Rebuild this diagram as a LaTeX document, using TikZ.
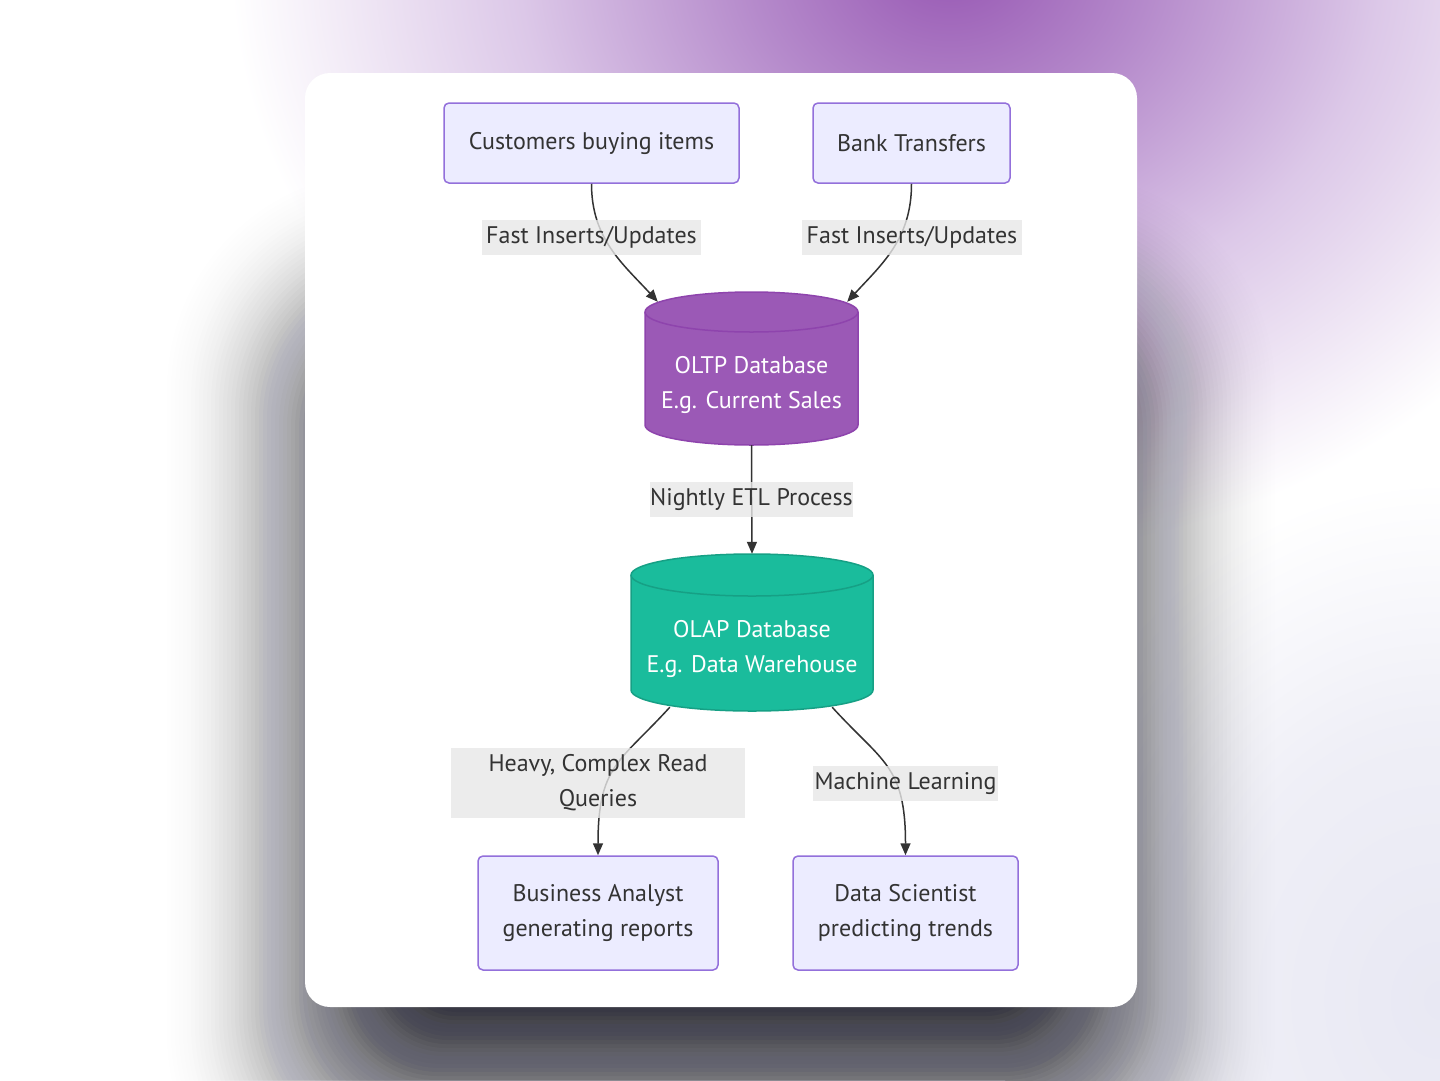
\documentclass[tikz,border=0pt]{standalone}
\usepackage{fontspec}
\setmainfont{PT Sans}
\usetikzlibrary{arrows.meta,calc}
\definecolor{boxfill}{HTML}{ECECFF}
\definecolor{boxline}{HTML}{9370DB}
\definecolor{ink}{HTML}{333333}
\definecolor{lblbg}{HTML}{E8E8E8}
\definecolor{oltpfill}{HTML}{9B59B6}
\definecolor{oltpline}{HTML}{8E44AD}
\definecolor{olapfill}{HTML}{1ABC9C}
\definecolor{olapline}{HTML}{16A085}
\definecolor{glowa}{HTML}{9757B3}
\definecolor{glowb}{HTML}{B58ACB}
\definecolor{glowc}{HTML}{DCC8E8}
\definecolor{bluea}{HTML}{E8E8F3}
\definecolor{shadowc}{HTML}{1C1C2A}
\pgfdeclareradialshading{purpleglow}{\pgfpoint{0bp}{0bp}}{color(0bp)=(glowa); color(7bp)=(glowb); color(15bp)=(glowc); color(25bp)=(white); color(50bp)=(white)}
\pgfdeclareradialshading{blueglow}{\pgfpoint{0bp}{0bp}}{color(0bp)=(bluea); color(13bp)=(bluea!70!white); color(25bp)=(white); color(50bp)=(white)}
\newcommand\mycyl[7]{%
  \pgfmathsetmacro\myrx{(#2-#1)/2}%
  \filldraw[fill=#6,draw=#7,line width=1.5pt] (#1,{#3+#5}) -- (#1,{#4-#5})
     arc[start angle=180,end angle=0,x radius=\myrx,y radius=#5] -- (#2,{#3+#5})
     arc[start angle=0,end angle=-180,x radius=\myrx,y radius=#5] -- cycle;
  \draw[#7,line width=1.5pt] (#1,{#3+#5}) arc[start angle=180,end angle=0,x radius=\myrx,y radius=#5];
}
\tikzset{
  txt/.style={font=\fontsize{24}{35}\selectfont, align=center, inner sep=0pt},
  procbox/.style={txt, rectangle, rounded corners=5pt, fill=boxfill, draw=boxline, line width=1.5pt, text=ink},
  edgelbl/.style={txt, rectangle, fill=lblbg, fill opacity=0.8, text opacity=1, text=ink},
  cylbounds/.style={rectangle, inner sep=0pt},
  cyltext/.style={txt, text=white},
  edge/.style={draw=ink, line width=1.5pt, -{Triangle[length=12pt,width=10pt]}}
}
\begin{document}
\begin{tikzpicture}[x=1pt,y=-1pt]
\useasboundingbox (0,0) rectangle (1440,1080);
\fill[white] (0,0) rectangle (1440,1080);
% background glows
\shade[shading=blueglow] (1440,1000) ellipse[x radius=440, y radius=520];
\shade[shading=purpleglow] (950,-40) ellipse[x radius=720, y radius=600];
% card shadow
\foreach \i in {0,...,70}{
  \pgfmathsetmacro\ee{-120+4*\i}
  \pgfmathsetmacro\aa{0.05*(160-\ee)/280}
  \pgfmathsetmacro\rr{30+0.7*(\ee+120)}
  \fill[shadowc, opacity=\aa, rounded corners=\rr pt] ({315-\ee},{320-\ee}) rectangle ({1127+\ee},{1104+\ee});
}
% card
\fill[white, rounded corners=25pt] (305,73) rectangle (1137,1007);

% nodes
\node[procbox, minimum width=295pt, minimum height=80pt] (cust) at (591.5,143) {Customers buying items};
\node[procbox, minimum width=197pt, minimum height=80pt] (bank) at (911.5,143) {Bank Transfers};

\mycyl{645}{858}{292}{445}{20}{oltpfill}{oltpline}
\node[cylbounds, minimum width=213pt, minimum height=153pt] (oltp) at (751.5,368.5) {};
\node[cyltext] (oltptxt) at (751.5,385) {OLTP Database\\E.g. Current Sales};

\mycyl{631}{873}{554}{711}{21}{olapfill}{olapline}
\node[cylbounds, minimum width=242pt, minimum height=157pt] (olap) at (752,632.5) {};
\node[cyltext] (olaptxt) at (752,649) {OLAP Database\\E.g. Data Warehouse};

\node[procbox, minimum width=240pt, minimum height=114pt] (ba) at (598,913) {Business Analyst\\generating reports};
\node[procbox, minimum width=225pt, minimum height=114pt] (ds) at (905.5,913) {Data Scientist\\predicting trends};

% connectors
\draw[edge] (cust.south) .. controls +(0,55) and +(-35,-38) .. ([shift={(13,10)}]oltp.north west);
\draw[edge] (bank.south) .. controls +(0,55) and +(35,-38) .. ([shift={(-11,10)}]oltp.north east);
\draw[edge] (oltp.south) -- (olap.north);
\draw[edge] ([shift={(39,-4)}]olap.south west) .. controls +(-50,55) and +(0,-90) .. (ba.north);
\draw[edge] ([shift={(-41,-4)}]olap.south east) .. controls +(50,55) and +(0,-90) .. (ds.north);

% edge labels
\node[edgelbl, minimum width=219pt, minimum height=35pt] (l1) at (591.5,237.5) {Fast Inserts/Updates};
\node[edgelbl, minimum width=220pt, minimum height=35pt] (l2) at (912,237.5) {Fast Inserts/Updates};
\node[edgelbl, minimum width=203pt, minimum height=35pt] (l3) at (751.5,499.5) {Nightly ETL Process};
\node[edgelbl, minimum width=294pt, minimum height=70pt] (l4) at (598,783) {Heavy, Complex Read\\Queries};
\node[edgelbl, minimum width=185pt, minimum height=35pt] (l5) at (905.5,783.5) {Machine Learning};
\end{tikzpicture}
\end{document}
